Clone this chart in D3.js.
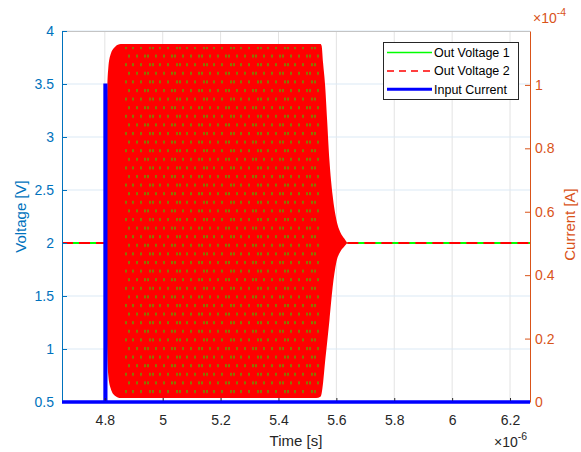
<!DOCTYPE html>
<html>
<head>
<meta charset="utf-8">
<script src="https://cdn.jsdelivr.net/npm/d3@7"></script>
<style>
  body { margin: 0; background: #fff; }
  svg text { font-family: Arial, "Liberation Sans", Helvetica, sans-serif; }
</style>
</head>
<body>
<div id="chart"></div>
<script>

//Oscillation envelope (time in microseconds, volts)
var envTime  = [4.806, 4.808, 4.812, 4.820, 4.835, 4.855, 5.000, 5.300, 5.530, 5.545, 5.549, 5.554, 5.561, 5.568, 5.576, 5.587, 5.600, 5.614, 5.628, 5.638];
var envUpper = [2.00, 3.40, 3.65, 3.78, 3.85, 3.877, 3.877, 3.877, 3.877, 3.877, 3.86, 3.70, 3.49, 3.16, 2.78, 2.45, 2.22, 2.10, 2.04, 2.00];
var envLower = [2.00, 1.00, 0.75, 0.63, 0.56, 0.538, 0.538, 0.538, 0.538, 0.55, 0.58, 0.68, 0.88, 1.06, 1.27, 1.58, 1.82, 1.92, 1.97, 2.00];

//Steady output voltage outside the oscillation
var voltTime  = [4.652, 4.806, null, 5.638, 6.269];
var voltValue = [2, 2, null, 2, 2];

//Input current pulse
var currTime  = [4.652, 4.800, 4.800, 4.804, 4.804, 6.269];
var currValue = [0, 0, 1.0e-4, 1.0e-4, 0, 0];

//Ticks
var xTicks = [4.8, 5, 5.2, 5.4, 5.6, 5.8, 6, 6.2];
var yLeftTicks = [0.5, 1, 1.5, 2, 2.5, 3, 3.5, 4];
var yRightTicks = [0, 0.2e-4, 0.4e-4, 0.6e-4, 0.8e-4, 1e-4];

var seriesNames = ["Out Voltage 1", "Out Voltage 2", "Input Current"];

var w = 581;
var h = 452;
var margin = {top: 31, right: 51, bottom: 50, left: 62};

var colors = {
    left: "#0072BD",
    right: "#D95319",
    axis: "#262626",
    green: "#00FF00",
    red: "#FF0000",
    blue: "#0000FF"
};

var x = d3.scaleLinear()
            .domain([4.652, 6.269])
            .range([margin.left, w - margin.right]);

var yL = d3.scaleLinear()
            .domain([0.5, 4])
            .range([h - margin.bottom, margin.top]);

var yR = d3.scaleLinear()
            .domain([0, 1.17e-4])
            .range([h - margin.bottom, margin.top]);

var svg = d3.select("#chart")
            .append("svg")
            .attr("width", w)
            .attr("height", h);

//Dot texture where the dashed red line lets the green one show through
var defs = svg.append("defs");
var pat = defs.append("pattern")
            .attr("id", "dots")
            .attr("patternUnits", "userSpaceOnUse")
            .attr("x", 0)
            .attr("y", 2)
            .attr("width", 27)
            .attr("height", 17.2);
pat.append("rect").attr("width", 27).attr("height", 17.2).attr("fill", colors.red);
[[1, 1], [9, 1], [12, 1], [20, 1], [5, 9.6], [14, 9.6], [17, 9.6], [24, 9.6]].forEach(function(p) {
    pat.append("rect")
        .attr("x", p[0])
        .attr("y", p[1])
        .attr("width", 2)
        .attr("height", 3)
        .attr("fill", "#56a800")
        .attr("opacity", 0.7);
});

defs.append("clipPath")
    .attr("id", "dotClip")
    .append("rect")
    .attr("x", x(4.868))
    .attr("y", 0)
    .attr("width", x(5.542) - x(4.868))
    .attr("height", h);

//Gridlines
svg.append("g")
    .selectAll("line")
    .data(xTicks)
    .join("line")
    .attr("x1", d => x(d)).attr("x2", d => x(d))
    .attr("y1", margin.top).attr("y2", h - margin.bottom)
    .attr("stroke", "#e3e3e3")
    .attr("stroke-width", 1);

svg.append("g")
    .selectAll("line")
    .data(yLeftTicks)
    .join("line")
    .attr("x1", margin.left).attr("x2", w - margin.right)
    .attr("y1", d => yL(d)).attr("y2", d => yL(d))
    .attr("stroke", "#dbe9f5")
    .attr("stroke-width", 1);

//Top border
svg.append("line")
    .attr("x1", margin.left).attr("x2", w - margin.right)
    .attr("y1", margin.top + 0.5).attr("y2", margin.top + 0.5)
    .attr("stroke", "#c4c4c4");

//Oscillation area
var env = envTime.map((t, i) => ({t: t, hi: envUpper[i], lo: envLower[i]}));

var area = d3.area()
            .x(d => x(d.t))
            .y0(d => yL(d.lo))
            .y1(d => yL(d.hi))
            .curve(d3.curveMonotoneX);

svg.append("path")
    .datum(env)
    .attr("d", area)
    .attr("fill", colors.red);

var innerArea = d3.area()
            .x(d => x(d.t))
            .y0(d => yL(d.lo) - 3)
            .y1(d => yL(d.hi) + 3)
            .curve(d3.curveMonotoneX);

svg.append("path")
    .datum(env)
    .attr("d", innerArea)
    .attr("clip-path", "url(#dotClip)")
    .attr("fill", "url(#dots)");

//Voltage lines
var volt = voltTime.map((t, i) => ({t: t, v: voltValue[i]}));
var vLine = d3.line()
            .defined(d => d.t !== null)
            .x(d => x(d.t))
            .y(d => yL(d.v));

svg.append("path")
    .datum(volt)
    .attr("d", vLine)
    .attr("fill", "none")
    .attr("stroke", colors.green)
    .attr("stroke-width", 2);

svg.append("path")
    .datum(volt)
    .attr("d", vLine)
    .attr("fill", "none")
    .attr("stroke", colors.red)
    .attr("stroke-width", 2)
    .attr("stroke-dasharray", "11,6");

//Current line (right axis)
var curr = currTime.map((t, i) => ({t: t, a: currValue[i]}));
svg.append("path")
    .datum(curr)
    .attr("d", d3.line().x(d => x(d.t)).y(d => yR(d.a)))
    .attr("fill", "none")
    .attr("stroke", colors.blue)
    .attr("stroke-width", 3)
    .attr("stroke-linejoin", "miter");

//Axes
var xAxis = d3.axisBottom(x)
                .tickValues(xTicks)
                .tickSizeInner(-4)
                .tickSizeOuter(0)
                .tickPadding(13)
                .tickFormat(d3.format("~g"));

var gx = svg.append("g")
    .attr("transform", "translate(0," + (h - margin.bottom) + ")")
    .call(xAxis);
gx.select(".domain").remove();
gx.selectAll("line").attr("stroke", colors.axis);
gx.selectAll("text").attr("fill", colors.axis).style("font-size", "14px");

var yAxisL = d3.axisLeft(yL)
                .tickValues(yLeftTicks)
                .tickSizeInner(-5)
                .tickSizeOuter(0)
                .tickPadding(8)
                .tickFormat(d3.format("~g"));

var gl = svg.append("g")
    .attr("transform", "translate(" + margin.left + ",0)")
    .call(yAxisL);
gl.select(".domain").attr("stroke", colors.left);
gl.selectAll("line").attr("stroke", colors.left);
gl.selectAll("text").attr("fill", colors.left).style("font-size", "14px");

var yAxisR = d3.axisRight(yR)
                .tickValues(yRightTicks)
                .tickSizeInner(-5)
                .tickSizeOuter(0)
                .tickPadding(5)
                .tickFormat(d => d3.format("~g")(+(d * 1e4).toFixed(2)));

var gr = svg.append("g")
    .attr("transform", "translate(" + (w - margin.right) + ",0)")
    .call(yAxisR);
gr.select(".domain").attr("stroke", colors.right);
gr.selectAll("line").attr("stroke", colors.right);
gr.selectAll("text").attr("fill", colors.right).style("font-size", "14px");

//Redraw bottom current line over the axis area
svg.append("line")
    .attr("x1", margin.left).attr("x2", w - margin.right)
    .attr("y1", yR(0)).attr("y2", yR(0))
    .attr("stroke", colors.blue)
    .attr("stroke-width", 3);

//Axis labels
svg.append("text")
    .attr("x", (margin.left + w - margin.right) / 2)
    .attr("y", 446)
    .attr("text-anchor", "middle")
    .attr("fill", colors.axis)
    .style("font-size", "15px")
    .text("Time [s]");

svg.append("text")
    .attr("transform", "translate(26," + ((margin.top + h - margin.bottom) / 2) + ") rotate(-90)")
    .attr("text-anchor", "middle")
    .attr("fill", colors.left)
    .style("font-size", "15px")
    .text("Voltage [V]");

svg.append("text")
    .attr("transform", "translate(575," + ((margin.top + h - margin.bottom) / 2 + 8) + ") rotate(-90)")
    .attr("text-anchor", "middle")
    .attr("fill", colors.right)
    .style("font-size", "15px")
    .text("Current [A]");

//Exponent labels
var expX = svg.append("text")
    .attr("x", 494)
    .attr("y", 447)
    .attr("fill", colors.axis)
    .style("font-size", "14px");
expX.append("tspan").text("\u00d710");
expX.append("tspan").attr("dy", -7).style("font-size", "10.5px").text("-6");

var expR = svg.append("text")
    .attr("x", 533)
    .attr("y", 23)
    .attr("fill", colors.right)
    .style("font-size", "14px");
expR.append("tspan").text("\u00d710");
expR.append("tspan").attr("dy", -7).style("font-size", "10.5px").text("-4");

//Legend
var legend = svg.append("g").attr("transform", "translate(383,42)");
legend.append("rect")
    .attr("x", 0.5).attr("y", 0.5)
    .attr("width", 135).attr("height", 57)
    .attr("fill", "#fff")
    .attr("stroke", colors.axis)
    .attr("stroke-width", 1);

var legStyles = [
    {color: colors.green, width: 1.5, dash: null},
    {color: colors.red, width: 1.5, dash: "7,5"},
    {color: colors.blue, width: 3, dash: null}
];

seriesNames.forEach(function(name, i) {
    var yy = 10.5 + i * 18.4;
    legend.append("line")
        .attr("x1", 4).attr("x2", 49)
        .attr("y1", yy).attr("y2", yy)
        .attr("stroke", legStyles[i].color)
        .attr("stroke-width", legStyles[i].width)
        .attr("stroke-dasharray", legStyles[i].dash);
    legend.append("text")
        .attr("x", 51)
        .attr("y", yy + 4.5)
        .attr("fill", "#000")
        .style("font-size", "12.5px")
        .text(name);
});

</script>
</body>
</html>
